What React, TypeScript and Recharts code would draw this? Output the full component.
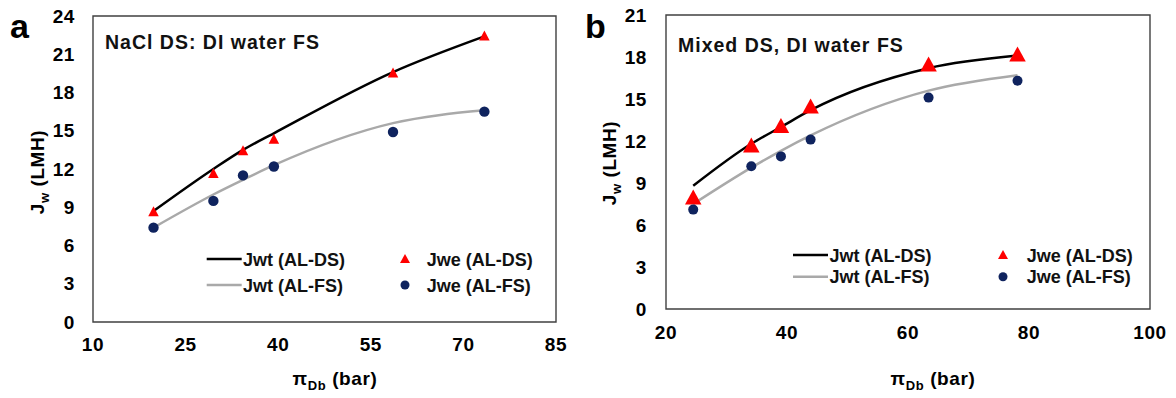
import React from 'react';
import {
  ComposedChart,
  Line,
  Scatter,
  XAxis,
  YAxis,
  ReferenceArea,
  Legend,
  Label
} from 'recharts';

// panel a: NaCl draw solution
const naclX = [19.8, 29.5, 34.3, 39.3, 58.6, 73.4];
const naclJweDs = [8.6, 11.6, 13.4, 14.3, 19.5, 22.4];
const naclJweFs = [7.4, 9.5, 11.5, 12.2, 14.9, 16.5];
const naclJwtDs = [8.7, 12.0, 13.5, 14.8, 19.6, 22.4];
const naclJwtFs = [7.4, 10.0, 11.15, 12.3, 15.6, 16.6];
const naclXTicks = [10, 25, 40, 55, 70, 85];
const naclYTicks = [0, 3, 6, 9, 12, 15, 18, 21, 24];

// panel b: mixed draw solution
const mixedX = [24.5, 34.1, 39.0, 43.9, 63.4, 78.1];
const mixedJweDs = [7.9, 11.6, 13.0, 14.4, 17.4, 18.1];
const mixedJweFs = [7.1, 10.2, 10.9, 12.1, 15.1, 16.3];
const mixedJwtDs = [8.8, 11.8, 13.0, 14.2, 17.2, 18.1];
const mixedJwtFs = [7.5, 10.1, 11.3, 12.4, 15.6, 16.7];
const mixedXTicks = [20, 40, 60, 80, 100];
const mixedYTicks = [0, 3, 6, 9, 12, 15, 18, 21];

const legendLabels = ['Jwt (AL-DS)', 'Jwt (AL-FS)', 'Jwe (AL-DS)', 'Jwe (AL-FS)'];

const FONT = '"Liberation Sans", Arial, sans-serif';
const RED = '#ff0000';
const NAVY = '#0f235e';
const GRAY = '#a9a9a9';

const toPts = (xs: number[], ys: number[]) => xs.map((x, i) => ({ x, y: ys[i] }));

const triangle = (w: number, h: number) => (p: any) => (
  <polygon
    points={`${p.cx},${p.cy - h * 0.6} ${p.cx - w / 2},${p.cy + h * 0.4} ${p.cx + w / 2},${p.cy + h * 0.4}`}
    fill={RED}
  />
);
const circle = (r: number) => (p: any) => <circle cx={p.cx} cy={p.cy} r={r} fill={NAVY} />;

function Panel(props: any) {
  const {
    width, margin, xs, jweDs, jweFs, jwtDs, jwtFs, xTicks, yTicks, yTickGap, xTickGap,
    title, titlePos, yTitlePos, xTitlePos, legend, tri, dotR
  } = props;
  const xMin = xTicks[0];
  const xMax = xTicks[xTicks.length - 1];
  const yMax = yTicks[yTicks.length - 1];
  const tickStyle = { fontSize: 19, fontWeight: 'bold', fill: '#000', fontFamily: FONT, letterSpacing: 0.6 };

  const renderLegend = () => (
    <svg width={legend.w} height={legend.h} style={{ fontFamily: FONT }}>
      <line x1={legend.lineX[0]} x2={legend.lineX[1]} y1={legend.rows[0]} y2={legend.rows[0]} stroke="#000" strokeWidth={2.5} />
      <line x1={legend.lineX[0]} x2={legend.lineX[1]} y1={legend.rows[1]} y2={legend.rows[1]} stroke={GRAY} strokeWidth={2.5} />
      <polygon
        points={`${legend.symX},${legend.rows[0] - 5} ${legend.symX - 5},${legend.rows[0] + 4} ${legend.symX + 5},${legend.rows[0] + 4}`}
        fill={RED}
      />
      <circle cx={legend.symX} cy={legend.rows[1]} r={4.5} fill={NAVY} />
      {legendLabels.map((t, i) => (
        <text
          key={t}
          x={i < 2 ? legend.textX[0] : legend.textX[1]}
          y={legend.rows[i % 2] + 6.5}
          fontSize={18}
          fontWeight="bold"
          fill="#111"
        >
          {t}
        </text>
      ))}
    </svg>
  );

  return (
    <ComposedChart width={width} height={398} margin={margin}>
      <XAxis
        dataKey="x"
        type="number"
        domain={[xMin, xMax]}
        ticks={xTicks}
        allowDataOverflow
        axisLine={false}
        tickLine={false}
        tickSize={0}
        tickMargin={xTickGap}
        height={40}
        tick={tickStyle}
        interval={0}
      >
        <Label
          content={() => (
            <text x={xTitlePos[0]} y={xTitlePos[1]} textAnchor="middle" fontSize={19} fontWeight="bold" fontFamily={FONT} fill="#000" letterSpacing={0.6}>
              <tspan>π</tspan>
              <tspan fontSize={13} dy={5}>Db</tspan>
              <tspan dy={-5}> (bar)</tspan>
            </text>
          )}
        />
      </XAxis>
      <YAxis
        dataKey="y"
        type="number"
        domain={[0, yMax]}
        ticks={yTicks}
        allowDataOverflow
        axisLine={false}
        tickLine={false}
        tickSize={0}
        tickMargin={yTickGap}
        width={60}
        tick={tickStyle}
        interval={0}
      >
        <Label
          content={() => (
            <text
              transform={`translate(${yTitlePos[0]},${yTitlePos[1]}) rotate(-90)`}
              textAnchor="middle"
              fontSize={19}
              fontWeight="bold"
              fontFamily={FONT}
              fill="#000"
              dy={7}
              letterSpacing={0.6}
            >
              <tspan>J</tspan>
              <tspan fontSize={13} dy={5}>w</tspan>
              <tspan dy={-5}> (LMH)</tspan>
            </text>
          )}
        />
      </YAxis>
      <ReferenceArea
        x1={xMin}
        x2={xMax}
        y1={0}
        y2={yMax}
        fill="none"
        stroke="#404040"
        strokeWidth={1.4}
        ifOverflow="visible"
        label={(
          <Label
            content={() => (
              <text x={titlePos[0]} y={titlePos[1]} fontSize={19.5} fontWeight="bold" fontFamily={FONT} fill="#111" letterSpacing={1}>
                {title}
              </text>
            )}
          />
        )}
      />
      <Line data={toPts(xs, jwtDs)} dataKey="y" type="monotone" stroke="#000" strokeWidth={2.5} dot={false} isAnimationActive={false} />
      <Line data={toPts(xs, jwtFs)} dataKey="y" type="monotone" stroke={GRAY} strokeWidth={2.5} dot={false} isAnimationActive={false} />
      <Scatter data={toPts(xs, jweDs)} dataKey="y" shape={triangle(tri[0], tri[1])} isAnimationActive={false} />
      <Scatter data={toPts(xs, jweFs)} dataKey="y" shape={circle(dotR)} isAnimationActive={false} />
      <Legend
        layout="horizontal"
        verticalAlign="middle"
        align="center"
        content={renderLegend}
        wrapperStyle={{ left: legend.left, top: legend.top, width: legend.w, height: legend.h }}
      />
    </ComposedChart>
  );
}

export default function App() {
  const letterStyle: React.CSSProperties = {
    position: 'absolute',
    fontSize: 34,
    lineHeight: '34px',
    fontWeight: 'bold',
    fontFamily: FONT,
    color: '#000'
  };
  return (
    <div style={{ position: 'absolute', left: 0, top: 0, width: 1176, height: 398, background: '#fff', fontFamily: FONT }}>
      <div style={{ position: 'absolute', left: 0, top: 0 }}>
        <Panel
          width={590}
          margin={{ top: 16, right: 34, left: 33, bottom: 36 }}
          xs={naclX}
          jweDs={naclJweDs}
          jweFs={naclJweFs}
          jwtDs={naclJwtDs}
          jwtFs={naclJwtFs}
          xTicks={naclXTicks}
          yTicks={naclYTicks}
          yTickGap={18}
          xTickGap={16}
          title="NaCl DS: DI water FS"
          titlePos={[105, 48.5]}
          yTitlePos={[37, 172]}
          xTitlePos={[335, 385]}
          legend={{ left: 200, top: 244, w: 345, h: 52, rows: [15, 41], lineX: [6.7, 41.7], textX: [43, 226.7], symX: 205 }}
          tri={[10.5, 10]}
          dotR={5.2}
        />
      </div>
      <div style={{ position: 'absolute', left: 590, top: 0 }}>
        <Panel
          width={586}
          margin={{ top: 15, right: 26, left: 16, bottom: 49 }}
          xs={mixedX}
          jweDs={mixedJweDs}
          jweFs={mixedJweFs}
          jwtDs={mixedJwtDs}
          jwtFs={mixedJwtFs}
          xTicks={mixedXTicks}
          yTicks={mixedYTicks}
          yTickGap={19}
          xTickGap={17}
          title="Mixed DS, DI water FS"
          titlePos={[88, 52]}
          yTitlePos={[18.7, 163]}
          xTitlePos={[343, 385]}
          legend={{ left: 200, top: 240, w: 350, h: 50, rows: [15, 36.7], lineX: [3, 38], textX: [39.5, 236.7], symX: 213 }}
          tri={[16.5, 15]}
          dotR={5}
        />
      </div>
      <div style={{ ...letterStyle, left: 10, top: 9 }}>a</div>
      <div style={{ ...letterStyle, left: 585, top: 9 }}>b</div>
    </div>
  );
}
